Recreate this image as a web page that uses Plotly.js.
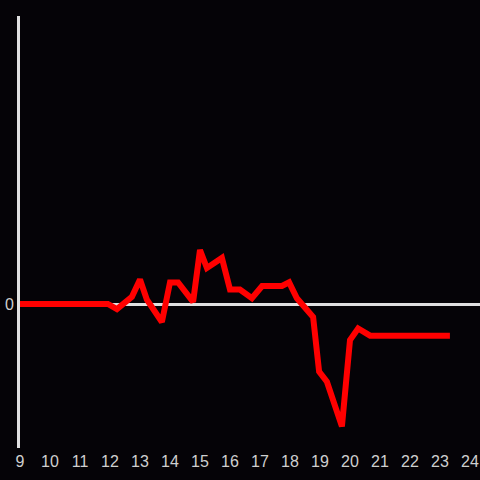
<!DOCTYPE html>
<html>
<head>
<meta charset="utf-8">
<script src="https://cdn.plot.ly/plotly-3.0.1.min.js"></script>
<style>html,body{margin:0;padding:0;background:#050307;}#chart{width:480px;height:480px;}</style>
</head>
<body>
<div id="chart"></div>
<script>
const hours = [9, 11.93, 12.23, 12.73, 13.0, 13.23, 13.73, 14.0, 14.27, 14.77, 15.0, 15.23, 15.73, 16.0, 16.33, 16.73, 17.07, 17.73, 17.97, 18.23, 18.77, 18.97, 19.23, 19.73, 20.0, 20.27, 20.67, 23.33];
const values = [0, 0, -0.035, 0.05, 0.17, 0.03, -0.125, 0.15, 0.15, 0.015, 0.375, 0.25, 0.32, 0.1, 0.1, 0.04, 0.125, 0.125, 0.15, 0.04, -0.09, -0.47, -0.54, -0.85, -0.25, -0.17, -0.22, -0.22];
const xTicks = [9,10,11,12,13,14,15,16,17,18,19,20,21,22,23,24];

Plotly.newPlot('chart', [{
  x: hours, y: values, type: 'scatter', mode: 'lines',
  line: {color: '#ff0000', width: 6}, hoverinfo: 'skip'
}], {
  width: 480, height: 480,
  paper_bgcolor: '#050307', plot_bgcolor: '#050307',
  margin: {l: 20, r: 0, t: 16, b: 32},
  showlegend: false,
  font: {family: 'Liberation Sans, Arial, sans-serif', size: 16, color: '#cfcfcf'},
  xaxis: {range: [9, 24.333], tickvals: xTicks, ticktext: xTicks.map(String),
    showgrid: false, zeroline: false, showline: false, ticks: '', ticklen: 0, ticklabelstandoff: 2},
  yaxis: {range: [-1, 2], tickvals: [0], ticktext: ['0'], showgrid: false,
    zeroline: true, zerolinecolor: '#e0e0e0', zerolinewidth: 3,
    showline: true, linecolor: '#e0e0e0', linewidth: 3, ticks: '', ticklen: 0}
}, {displayModeBar: false, staticPlot: true});
</script>
</body>
</html>
